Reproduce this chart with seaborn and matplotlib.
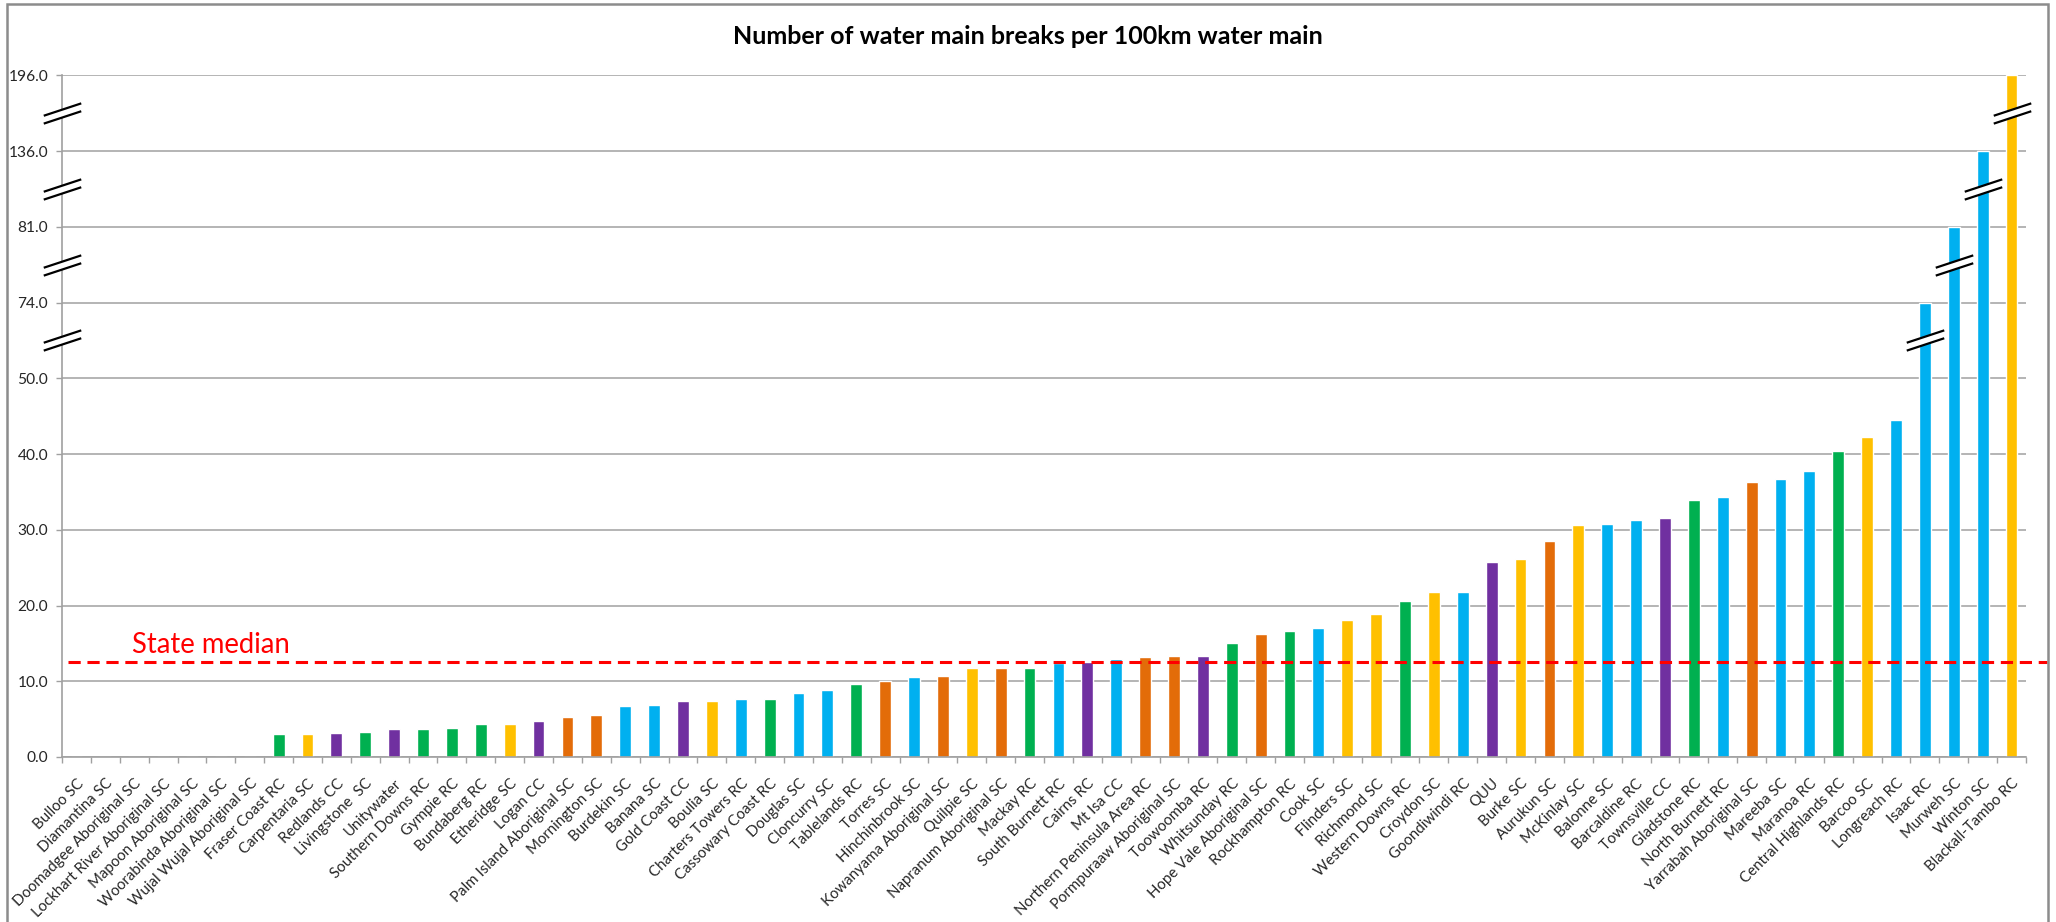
import numpy as np
import pandas as pd
import matplotlib
matplotlib.use("Agg")
import matplotlib.pyplot as plt
from matplotlib.path import Path
from matplotlib.patches import Rectangle
import seaborn as sns

# councils, sorted by breaks per 100km
councils = [
    "Bulloo SC", "Diamantina SC", "Doomadgee Aboriginal SC", "Lockhart River Aboriginal SC",
    "Mapoon Aboriginal SC", "Woorabinda Aboriginal SC", "Wujal Wujal Aboriginal SC",
    "Fraser Coast RC", "Carpentaria SC", "Redlands CC", "Livingstone  SC", "Unitywater",
    "Southern Downs RC", "Gympie RC", "Bundaberg RC", "Etheridge SC", "Logan CC",
    "Palm Island Aboriginal SC", "Mornington SC", "Burdekin SC", "Banana SC", "Gold Coast CC",
    "Boulia SC", "Charters Towers RC", "Cassowary Coast RC", "Douglas SC", "Cloncurry SC",
    "Tablelands RC", "Torres SC", "Hinchinbrook SC", "Kowanyama Aboriginal SC", "Quilpie SC",
    "Napranum Aboriginal SC", "Mackay RC", "South Burnett RC", "Cairns RC", "Mt Isa CC",
    "Northern Peninsula Area RC", "Pormpuraaw Aboriginal SC", "Toowoomba RC", "Whitsunday RC",
    "Hope Vale Aboriginal SC", "Rockhampton RC", "Cook SC", "Flinders SC", "Richmond SC",
    "Western Downs RC", "Croydon SC", "Goondiwindi RC", "QUU", "Burke SC", "Aurukun SC",
    "McKinlay SC", "Balonne SC", "Barcaldine RC", "Townsville CC", "Gladstone RC",
    "North Burnett RC", "Yarrabah Aboriginal SC", "Mareeba SC", "Maranoa RC",
    "Central Highlands RC", "Barcoo SC", "Longreach RC", "Isaac RC", "Murweh SC",
    "Winton SC", "Blackall-Tambo RC",
]

breaks = [
    0, 0, 0, 0, 0, 0, 0,
    3.0, 3.0, 3.2, 3.3, 3.7,
    3.7, 3.8, 4.3, 4.4, 4.8,
    5.3, 5.6, 6.7, 6.9, 7.4,
    7.4, 7.6, 7.6, 8.5, 8.8,
    9.7, 10.0, 10.5, 10.7, 11.7,
    11.7, 11.8, 12.4, 12.5, 13.0,
    13.2, 13.3, 13.3, 15.0,
    16.2, 16.7, 17.0, 18.1, 18.9,
    20.6, 21.8, 21.8, 25.7, 26.1, 28.5,
    30.6, 30.8, 31.3, 31.5, 33.9,
    34.3, 36.3, 36.7, 37.7,
    40.4, 42.2, 44.5, 74.0, 81.0,
    136.0, 196.0,
]

# colour group of each bar (G green, Y yellow, P purple, O orange, B blue)
groups = list(
    "GGGGGGG"  # zero bars, colour not visible
    "GYPGPGGGYPOOBBPYBGBBGOBOYOGBPBOOPGOGBYYGYBPYOYBBPGBOBBGYBBBBY"
)

state_median = 12.6

# piecewise y axis: 0-50 linear, then each break tick one gridline step
y_ticks = [0, 10, 20, 30, 40, 50, 74, 81, 136, 196]
y_levels = [0, 10, 20, 30, 40, 50, 60, 70, 80, 90]

palette = {"G": "#00B050", "Y": "#FFC000", "P": "#7030A0", "O": "#E36C09", "B": "#00B0F0"}


def forward(v):
    return np.interp(v, y_ticks, y_levels)


def inverse(u):
    return np.interp(u, y_levels, y_ticks)


df = pd.DataFrame({"council": councils, "breaks": breaks, "group": groups[:len(councils)]})

sns.set_theme(style="white")
plt.rcParams["font.family"] = ["Lato", "DejaVu Sans"]

fig = plt.figure(figsize=(20.56, 9.22), dpi=100)
ax = fig.add_axes([62 / 2056, 1 - 757 / 922, 1964 / 2056, 681.7 / 922])

sns.barplot(data=df, x="council", y="breaks", hue="group", palette=palette,
            dodge=False, width=0.41, legend=False, saturation=1, ax=ax)

ax.set_yscale("function", functions=(forward, inverse))
ax.set_ylim(0, 196)
ax.set_xlim(-0.5, len(councils) - 0.5)
ax.set_yticks(y_ticks)
ax.set_yticklabels([f"{t:.1f}" for t in y_ticks], fontsize=11.2, color="#262626")
ax.yaxis.grid(True, color="#a0a0a0", lw=1.1)
ax.set_axisbelow(True)

ax.set_xticks(range(len(councils)))
ax.set_xticklabels(councils, rotation=45, ha="right", rotation_mode="anchor",
                   fontsize=10.8, color="#262626")
ax.set_xticks(np.arange(-0.5, len(councils), 1), minor=True)
ax.tick_params(axis="x", which="major", length=0, pad=14)
ax.tick_params(axis="x", which="minor", length=4, width=1, color="#a0a0a0", bottom=True)
ax.tick_params(axis="y", length=4, width=1, color="#a0a0a0", left=True, pad=6)
ax.set_xlabel("")
ax.set_ylabel("")

for side in ["top", "right"]:
    ax.spines[side].set_visible(False)
for side in ["left", "bottom"]:
    ax.spines[side].set_color("#a0a0a0")
    ax.spines[side].set_linewidth(1.2)

# state median
ax.axhline(state_median, xmin=0.003, xmax=1.0107, color="#FF0000", lw=2.2,
           dashes=(4, 2.2), clip_on=False, zorder=4)
ax.annotate("State median", xy=(0.0354, state_median), xycoords=("axes fraction", "data"),
            xytext=(0, 6.5), textcoords="offset points", va="baseline", ha="left",
            fontsize=19.8, color="#FF0000")

# break marks: white gap between two slanted lines
gap_fill = Path([(-1, -0.54), (1, 0.12), (1, 0.54), (-1, -0.12), (-1, -0.54)],
                [Path.MOVETO, Path.LINETO, Path.LINETO, Path.LINETO, Path.CLOSEPOLY])
gap_lines = Path([(-1, -0.54), (1, 0.12), (-1, -0.12), (1, 0.54)],
                 [Path.MOVETO, Path.LINETO, Path.MOVETO, Path.LINETO])

break_y = [inverse((y_levels[i] + y_levels[i + 1]) / 2) for i in range(5, len(y_levels) - 1)]
tall = [i for i, v in enumerate(breaks) if v > 50]
mark_x = [-0.5] * len(break_y) + tall
mark_y = list(break_y) + [inverse((forward(breaks[i]) - 5)) for i in tall]

ax.plot(mark_x, mark_y, ls="none", marker=gap_fill, markersize=27, markerfacecolor="white",
        markeredgewidth=0, clip_on=False, zorder=6)
ax.plot(mark_x, mark_y, ls="none", marker=gap_lines, markersize=27, markerfacecolor="none",
        markeredgecolor="black", markeredgewidth=1.6, clip_on=False, zorder=7)

fig.text(0.5, 1 - 37 / 922, "Number of water main breaks per 100km water main",
         ha="center", va="center", fontsize=18, fontweight="bold", color="#000000")

# chart border
fig.patches.append(Rectangle((6.5 / 2056, -0.1), (2048 - 6.5) / 2056, 1.1 - 4.5 / 922,
                             transform=fig.transFigure, fill=False, edgecolor="#8c8c8c", lw=1.8))

fig.savefig("out.png", dpi=100)
